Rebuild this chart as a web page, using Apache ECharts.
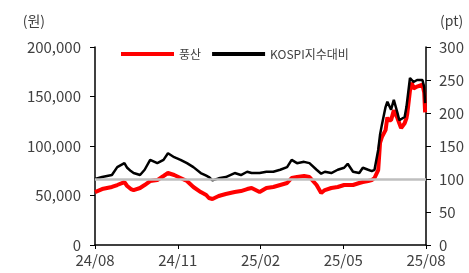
<!DOCTYPE html>
<html>
<head>
<meta charset="utf-8">
<script src="https://cdn.jsdelivr.net/npm/echarts@6/dist/echarts.min.js"></script>
<style>
  html, body { margin: 0; padding: 0; background: #fff; }
  #chart { width: 469px; height: 273px; }
</style>
</head>
<body>
<div id="chart"></div>
<script>
// trading dates
var dates = [
  "2024-08-01", "2024-08-09", "2024-08-20", "2024-08-26", "2024-09-03", "2024-09-06",
  "2024-09-10", "2024-09-13", "2024-09-20", "2024-09-25", "2024-10-01", "2024-10-09",
  "2024-10-16", "2024-10-21", "2024-10-28", "2024-11-04", "2024-11-11", "2024-11-18",
  "2024-11-26", "2024-12-02", "2024-12-05", "2024-12-09", "2024-12-16", "2024-12-24",
  "2025-01-03", "2025-01-10", "2025-01-17", "2025-01-22", "2025-01-31", "2025-02-07",
  "2025-02-14", "2025-02-21", "2025-02-28", "2025-03-05", "2025-03-11", "2025-03-19",
  "2025-03-25", "2025-04-02", "2025-04-07", "2025-04-11", "2025-04-18", "2025-04-25",
  "2025-05-02", "2025-05-06", "2025-05-12", "2025-05-19", "2025-05-23", "2025-05-29",
  "2025-06-02", "2025-06-05", "2025-06-09", "2025-06-11", "2025-06-13", "2025-06-17",
  "2025-06-19", "2025-06-20", "2025-06-23", "2025-06-26", "2025-06-30", "2025-07-02",
  "2025-07-04", "2025-07-08", "2025-07-10", "2025-07-11", "2025-07-14", "2025-07-16",
  "2025-07-18", "2025-07-22", "2025-07-24", "2025-07-28", "2025-07-30", "2025-07-31"
];
// 풍산 주가 (원)
var poongsan = [
  53500, 56500, 58600, 60600, 63600, 59600,
  56500, 55500, 57600, 60600, 64600, 65600,
  69700, 72700, 70700, 67700, 64600, 58600,
  53500, 50500, 47500, 46500, 49500, 51500,
  53500, 54500, 56500, 57600, 53500, 57600,
  58600, 60600, 62600, 67700, 68700, 69700,
  68700, 60600, 52500, 55500, 57600, 58600,
  60600, 60600, 60600, 62600, 63600, 64600,
  65600, 67700, 75700, 103000, 109000, 116000,
  129000, 126000, 126000, 136000, 128000, 123000,
  118000, 123000, 128000, 133000, 156000, 164000,
  158000, 160000, 160000, 162000, 154000, 134000
];
// KOSPI 대비 상대지수 (pt)
var kospiRel = [
  100, 103, 106, 118, 124, 117,
  112, 109, 106, 114, 129, 124,
  129, 139, 133, 129, 124, 118,
  109, 105, 103, 98, 101, 103,
  109, 106, 111, 109, 109, 111,
  111, 114, 118, 129, 124, 126,
  124, 114, 108, 111, 109, 114,
  117, 123, 111, 109, 117, 114,
  112, 114, 144, 167, 182, 209,
  217, 220, 205, 220, 200, 189,
  192, 194, 209, 220, 253, 255,
  247, 250, 247, 250, 239, 215
];
var tickLabels = ["24/08", "24/11", "25/02", "25/05", "25/08"];
var baseLevel = 100;

// months since 2024-08-01, so quarter ticks land on month starts
function monthPos(d) {
  var p = d.split("-");
  var y = +p[0], m = +p[1], day = +p[2];
  var len = new Date(y, m, 0).getDate();
  return (y - 2024) * 12 + (m - 8) + (day - 1) / len;
}

var redData = [];
var blackData = [];
for (var i = 0; i < dates.length; i++) {
  redData.push([monthPos(dates[i]), poongsan[i]]);
  blackData.push([monthPos(dates[i]), kospiRel[i]]);
}

var font = "Noto Sans CJK KR";
var labelStyle = { fontSize: 15, color: "#404040", fontFamily: font };

var chart = echarts.init(document.getElementById("chart"));
var option = {
  animation: false,
  textStyle: { fontFamily: font },
  legend: {
    data: ["풍산", "KOSPI지수대비"],
    top: 43,
    left: 116,
    icon: "rect",
    itemWidth: 53,
    itemHeight: 4,
    itemGap: 11,
    textStyle: { fontSize: 12, color: "#404040", fontFamily: font }
  },
  grid: { left: 95, right: 43, top: 47, bottom: 28 },
  xAxis: {
    type: "value",
    min: 0,
    max: 12,
    interval: 3,
    axisLine: { lineStyle: { color: "#000", width: 1.5 } },
    axisTick: { show: true, length: 4, lineStyle: { color: "#000" } },
    splitLine: { show: false },
    axisLabel: Object.assign({
      margin: 8,
      formatter: function (v) { return tickLabels[Math.round(v / 3)]; }
    }, labelStyle)
  },
  yAxis: [
    {
      type: "value",
      min: 0,
      max: 200000,
      interval: 50000,
      name: "(원)",
      nameGap: 19,
      nameTextStyle: { fontSize: 14, color: "#404040", fontFamily: font, align: "right", padding: [0, 50, 0, 0] },
      axisLine: { show: true, lineStyle: { color: "#000", width: 1.5 } },
      axisTick: { show: true, length: 5, lineStyle: { color: "#000" } },
      splitLine: { show: false },
      axisLabel: Object.assign({
        margin: 14,
        formatter: function (v) { return v.toLocaleString("en-US"); }
      }, labelStyle)
    },
    {
      type: "value",
      min: 0,
      max: 300,
      interval: 50,
      name: "(pt)",
      nameGap: 19,
      nameTextStyle: { fontSize: 14, color: "#404040", fontFamily: font, align: "left", padding: [0, 0, 0, 14] },
      axisLine: { show: true, lineStyle: { color: "#000", width: 1.5 } },
      axisTick: { show: true, length: 5, lineStyle: { color: "#000" } },
      splitLine: { show: false },
      axisLabel: Object.assign({ margin: 13 }, labelStyle)
    }
  ],
  series: [
    {
      name: "base",
      type: "line",
      yAxisIndex: 1,
      data: [],
      z: 1,
      silent: true,
      markLine: {
        symbol: "none",
        silent: true,
        label: { show: false },
        lineStyle: { color: "#bfbfbf", width: 2.5, type: "solid" },
        data: [{ yAxis: baseLevel }]
      }
    },
    {
      name: "풍산",
      type: "line",
      yAxisIndex: 0,
      data: redData,
      showSymbol: false,
      z: 3,
      lineStyle: { color: "#ff0000", width: 4 },
      itemStyle: { color: "#ff0000" }
    },
    {
      name: "KOSPI지수대비",
      type: "line",
      yAxisIndex: 1,
      data: blackData,
      showSymbol: false,
      z: 4,
      lineStyle: { color: "#000000", width: 2.5 },
      itemStyle: { color: "#000000" }
    }
  ]
};
chart.setOption(option);
</script>
</body>
</html>
